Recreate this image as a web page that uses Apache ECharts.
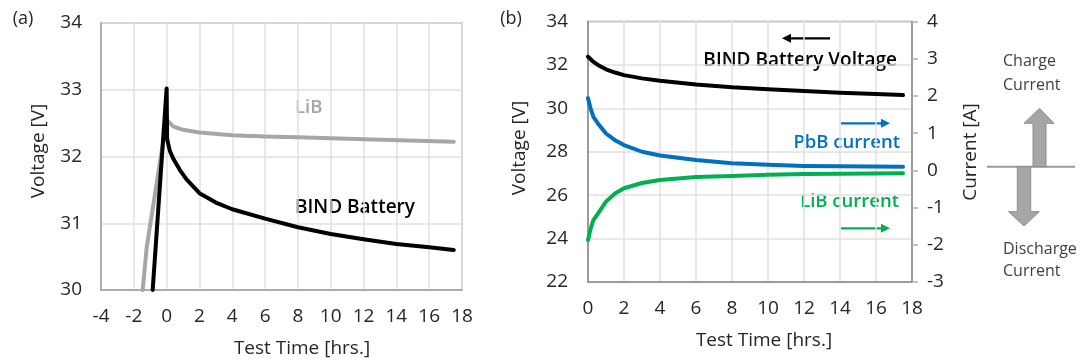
<!DOCTYPE html>
<html>
<head>
<meta charset="utf-8">
<script src="https://cdn.jsdelivr.net/npm/echarts@6/dist/echarts.min.js"></script>
<style>
  html, body { margin: 0; padding: 0; background: #fff; }
  #chart { width: 1083px; height: 364px; }
</style>
</head>
<body>
<div id="chart"></div>
<script>
// ---- Panel (a): voltage during charge and the following rest ----
// [time in hrs, voltage in V]
const bindRiseA = [[-0.85, 30], [0, 33.02], [0.03, 32.26]];
const bindRestA = [[0.03, 32.26], [0.2, 32.08], [0.4, 31.97], [0.8, 31.8], [1.2, 31.66], [2, 31.45],
                   [3, 31.31], [4, 31.21], [6, 31.07], [8, 30.94], [10, 30.84],
                   [12, 30.76], [14, 30.69], [16, 30.64], [17.5, 30.6]];
const libRiseA = [[-1.46, 30], [-1.21, 30.65], [0, 32.55]];
const libRestA = [[0, 32.55], [0.4, 32.45], [1, 32.4], [2, 32.36], [4, 32.32], [6, 32.3],
                  [8, 32.29], [12, 32.26], [17.5, 32.22]];

// ---- Panel (b): pack voltage and branch currents during rest ----
const bindVoltB = [[0, 32.38], [0.25, 32.18], [0.55, 32.0], [1, 31.8], [1.5, 31.65], [2, 31.53], [3, 31.38], [4, 31.27],
                   [6, 31.1], [8, 30.97], [10, 30.88], [12, 30.8], [14, 30.72], [16, 30.66], [17.5, 30.61]];
// [time in hrs, current in A]
const pbbCurrent = [[0, 1.94], [0.15, 1.65], [0.3, 1.44], [0.55, 1.26], [1, 0.99], [1.5, 0.81], [2, 0.68], [3, 0.5],
                    [4, 0.4], [6, 0.28], [8, 0.19], [10, 0.15], [12, 0.12], [14, 0.11], [17.5, 0.1]];
const libCurrent = [[0, -1.87], [0.15, -1.56], [0.3, -1.34], [0.55, -1.16], [1, -0.84], [1.5, -0.62], [2, -0.48], [3, -0.34],
                    [4, -0.26], [6, -0.18], [8, -0.15], [10, -0.12], [12, -0.1], [14, -0.09], [17.5, -0.08]];

// ---- Axis ranges ----
const timeAxisA = { min: -4, max: 18, interval: 2 };
const voltAxisA = { min: 30, max: 34, interval: 1 };
const timeAxisB = { min: 0, max: 18, interval: 2 };
const voltAxisB = { min: 22, max: 34, interval: 2 };
const currAxisB = { min: -3, max: 4, interval: 1 };

const FONT = 'Open Sans';
const TXT = '#262626';
const GRID_LINE = '#e0e0e0';
const C_BLACK = '#000000';
const C_GRAY = '#a6a6a6';
const C_BLUE = '#0070c0';
const C_GREEN = '#00b050';

const chart = echarts.init(document.getElementById('chart'), null, { renderer: 'canvas' });

function valueAxis(range, gridIndex, frameColor, extra) {
  return Object.assign({
    type: 'value',
    gridIndex: gridIndex,
    min: range.min, max: range.max, interval: range.interval,
    axisLine: { show: true, onZero: false, lineStyle: { color: frameColor, width: 1.5 } },
    axisTick: { show: false },
    splitLine: { show: true, lineStyle: { color: GRID_LINE, width: 1.5 } },
    axisLabel: { color: TXT, fontFamily: FONT, fontSize: 19, margin: 18 }
  }, extra || {});
}

function line(data, color, xi, yi) {
  return {
    type: 'line', data: data, xAxisIndex: xi, yAxisIndex: yi,
    showSymbol: false, smooth: false,
    lineStyle: { color: color, width: 4, cap: 'round', join: 'round' },
    animation: false, silent: true
  };
}

function text(str, x, y, opts) {
  return {
    type: 'text', x: x, y: y, rotation: (opts && opts.rotation) || 0,
    style: Object.assign({
      text: str, fill: TXT, font: '19px "' + FONT + '"',
      align: 'center', verticalAlign: 'middle'
    }, (opts && opts.style) || {})
  };
}

function hArrow(x1, x2, y, color) {
  // shaft from x1 to x2, head at x2
  const dir = x2 > x1 ? 1 : -1;
  const head = 9, half = 4.5;
  return {
    type: 'group',
    children: [
      { type: 'line', shape: { x1: x1, y1: y, x2: x2 - dir * (head - 2), y2: y },
        style: { stroke: color, lineWidth: 2.2 } },
      { type: 'polygon', shape: { points: [[x2, y], [x2 - dir * head, y - half], [x2 - dir * head, y + half]] },
        style: { fill: color } }
    ]
  };
}

const boldFont = (size) => '600 ' + size + 'px "' + FONT + '"';

const option = {
  backgroundColor: '#ffffff',
  animation: false,
  grid: [
    { left: 101, top: 23, width: 361, height: 267, show: true, borderColor: '#a0a0a0', borderWidth: 1.5 },
    { left: 588, top: 21.5, width: 324, height: 260.5, show: true, borderColor: '#8a8a8a', borderWidth: 1.5 }
  ],
  xAxis: [
    valueAxis(timeAxisA, 0, '#a0a0a0', { axisLabel: { color: TXT, fontFamily: FONT, fontSize: 19, margin: 17 } }),
    valueAxis(timeAxisB, 1, '#8a8a8a', { axisLabel: { color: TXT, fontFamily: FONT, fontSize: 19, margin: 17 } })
  ],
  yAxis: [
    valueAxis(voltAxisA, 0, '#a0a0a0', { axisLabel: { color: TXT, fontFamily: FONT, fontSize: 19, margin: 19 } }),
    valueAxis(voltAxisB, 1, '#8a8a8a', { axisLabel: { color: TXT, fontFamily: FONT, fontSize: 19, margin: 20 } }),
    valueAxis(currAxisB, 1, '#8a8a8a', {
      position: 'right',
      splitLine: { show: false },
      axisTick: { show: true, length: 6, lineStyle: { color: '#b0b0b0', width: 1.5 } },
      axisLabel: { color: TXT, fontFamily: FONT, fontSize: 19, margin: 15 }
    })
  ],
  series: [
    line(libRiseA, C_GRAY, 0, 0),
    line(libRestA, C_GRAY, 0, 0),
    line(bindRiseA, C_BLACK, 0, 0),
    line(bindRestA, C_BLACK, 0, 0),
    line(bindVoltB, C_BLACK, 1, 1),
    line(pbbCurrent, C_BLUE, 1, 2),
    line(libCurrent, C_GREEN, 1, 2)
  ],
  graphic: [
    // panel tags
    text('(a)', 23, 19, { style: { font: '18px "' + FONT + '"' } }),
    text('(b)', 511, 19, { style: { font: '18px "' + FONT + '"' } }),
    // axis titles
    text('Voltage [V]', 39, 151, { rotation: Math.PI / 2 }),
    text('Test Time [hrs.]', 302, 349),
    text('Voltage [V]', 520, 148, { rotation: Math.PI / 2 }),
    text('Current [A]', 971, 152, { rotation: Math.PI / 2 }),
    text('Test Time [hrs.]', 764, 341),
    // series annotations, panel (a)
    text('LiB', 295, 108, { style: { align: 'left', fill: C_GRAY, font: boldFont(18.5) } }),
    text('BIND Battery', 295, 208, { style: { align: 'left', fill: '#000', font: boldFont(19) } }),
    // series annotations, panel (b)
    text('BIND Battery Voltage', 897, 61, { style: { align: 'right', fill: '#000', font: boldFont(19) } }),
    hArrow(830, 782, 38.3, '#000'),
    text('PbB current', 900, 143, { style: { align: 'right', fill: C_BLUE, font: boldFont(18.5) } }),
    hArrow(841, 890, 123.3, C_BLUE),
    text('LiB current', 899, 201.5, { style: { align: 'right', fill: C_GREEN, font: boldFont(18.5) } }),
    hArrow(841, 890, 228.3, C_GREEN),
    // current sign legend
    { type: 'line', shape: { x1: 987, y1: 166.7, x2: 1075, y2: 166.7 }, style: { stroke: '#9a9a9a', lineWidth: 2 } },
    { type: 'polygon',
      shape: { points: [[1033, 166.7], [1033, 123.3], [1024, 123.3], [1039.5, 108.3], [1054, 123.3], [1046, 123.3], [1046, 166.7]] },
      style: { fill: '#a6a6a6', stroke: '#8c8c8c', lineWidth: 1 } },
    { type: 'polygon',
      shape: { points: [[1017.3, 166.7], [1017.3, 211.7], [1008.5, 211.7], [1024, 226], [1039.3, 211.7], [1030.7, 211.7], [1030.7, 166.7]] },
      style: { fill: '#a6a6a6', stroke: '#8c8c8c', lineWidth: 1 } },
    text('Charge', 1003, 61.5, { style: { align: 'left', fill: '#404040', font: '16px "' + FONT + '"' } }),
    text('Current', 1003, 85.5, { style: { align: 'left', fill: '#404040', font: '16px "' + FONT + '"' } }),
    text('Discharge', 1003, 249, { style: { align: 'left', fill: '#404040', font: '16px "' + FONT + '"' } }),
    text('Current', 1003, 271.5, { style: { align: 'left', fill: '#404040', font: '16px "' + FONT + '"' } })
  ]
};

chart.setOption(option);
</script>
</body>
</html>
